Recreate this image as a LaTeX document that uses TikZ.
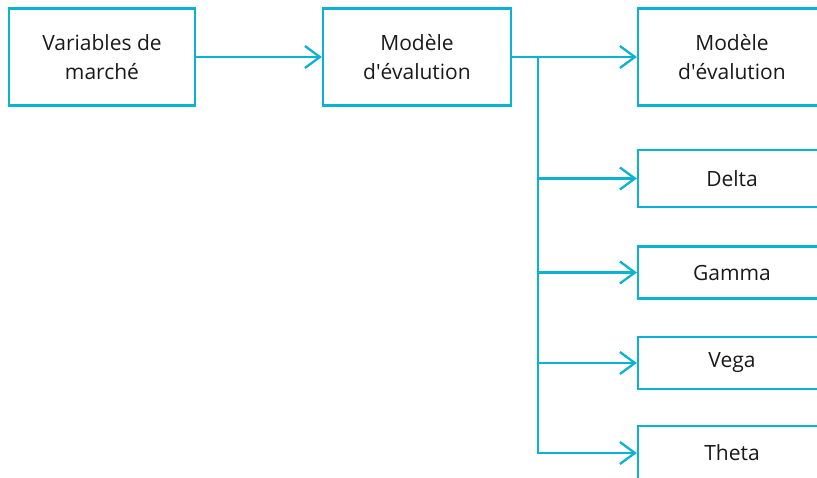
\documentclass[tikz,border=0pt]{standalone}
\usepackage{fontspec}
\setmainfont{Open Sans}
\usetikzlibrary{arrows.meta}
\definecolor{hpcyan}{HTML}{0BB3D3}
\definecolor{txt}{HTML}{1A1A1A}
\begin{document}
\begin{tikzpicture}[x=1pt,y=-1pt,
 box/.style={draw=hpcyan, line width=2.3pt, fill=white, minimum width=188pt, inner sep=0pt, align=center, text=txt, font=\fontsize{21}{29}\selectfont},
 conn/.style={draw=hpcyan, line width=2.3pt, -{Straight Barb[length=15pt,width=22pt,line width=2.3pt]}},
 line/.style={draw=hpcyan, line width=2.3pt}
]
\useasboundingbox (0,0) rectangle (817,477);
\clip (0,0) rectangle (817,477);
\node[box, minimum width=186pt, minimum height=97pt] (var) at (102,57) {Variables de\\marché};
\node[box, minimum height=97pt] (mod) at (417,57) {Modèle\\d\textquotesingle évalution};
\node[box, minimum height=97pt] (mod2) at (732,57) {Modèle\\d\textquotesingle évalution};
\node[box, minimum height=57pt] (delta) at (732,178.5) {Delta};
\node[box, minimum height=52pt] (gamma) at (732,272.5) {Gamma};
\node[box, minimum height=52pt] (vega) at (732,363) {Vega};
\node[box, minimum height=54pt] (theta) at (732,453) {Theta};
\coordinate (j) at (538,57);
\draw[conn] (var) -- (mod);
\draw[conn] (mod) -- (mod2);
\draw[line] (j) -- (j |- theta.west);
\draw[conn] (j) |- (delta.west);
\draw[conn] (j) |- (gamma.west);
\draw[conn] (j) |- (vega.west);
\draw[conn] (j) |- (theta.west);
\end{tikzpicture}
\end{document}
